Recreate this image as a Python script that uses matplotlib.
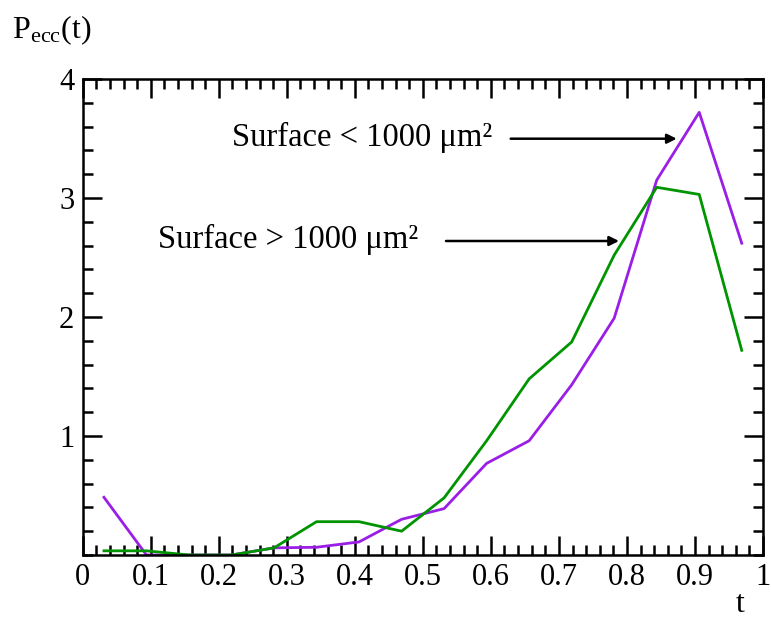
import matplotlib
matplotlib.use("Agg")
import matplotlib.pyplot as plt
from matplotlib.ticker import MultipleLocator, FixedLocator, FuncFormatter

plt.rcParams['font.family'] = ['Liberation Serif', 'DejaVu Serif']
plt.rcParams['mathtext.fontset'] = 'custom'
plt.rcParams['mathtext.rm'] = 'Liberation Serif'
plt.rcParams['mathtext.it'] = 'Liberation Serif'

t = [0.03125, 0.09375, 0.15625, 0.21875, 0.28125, 0.34375, 0.40625, 0.46875,
     0.53125, 0.59375, 0.65625, 0.71875, 0.78125, 0.84375, 0.90625, 0.96875]
small_surface = [0.485, 0.0, 0.0, 0.0, 0.06, 0.065, 0.11, 0.30,
                 0.39, 0.77, 0.96, 1.43, 1.99, 3.15, 3.72, 2.62]
large_surface = [0.035, 0.035, 0.0, 0.0, 0.06, 0.28, 0.28, 0.20,
                 0.48, 0.96, 1.48, 1.79, 2.52, 3.09, 3.03, 1.72]

purple = '#9b1ee6'
green = '#009400'

W, H = 771, 621
fig = plt.figure(figsize=(W/100, H/100), dpi=100)
x0, x1, ytop, ybot = 82.7, 763, 79, 555
ax = fig.add_axes([x0/W, 1 - ybot/H, (x1 - x0)/W, (ybot - ytop)/H])

ax.plot(t, small_surface, color=purple, lw=2.0)
ax.plot(t, large_surface, color=green, lw=2.0)

ax.set_xlim(0, 1)
ax.set_ylim(0, 4)
ax.xaxis.set_major_locator(MultipleLocator(0.1))
ax.xaxis.set_minor_locator(MultipleLocator(0.02))
ax.yaxis.set_major_locator(FixedLocator([1, 2, 3, 4]))
ax.yaxis.set_minor_locator(MultipleLocator(0.2))
ax.xaxis.set_major_formatter(FuncFormatter(lambda v, p: '%g' % round(v, 2)))
ax.yaxis.set_major_formatter(FuncFormatter(lambda v, p: '%g' % v))

ax.tick_params(which='both', direction='in', top=True, right=True, width=1.8,
               labelsize=22, colors='black')
ax.tick_params(which='major', length=14, pad=6)
ax.tick_params(which='minor', length=7)
for s in ax.spines.values():
    s.set_linewidth(1.8)


def px(xp, yp):
    return (xp / W, 1 - yp / H)


fig.text(*px(12, 30), r'P$_{\mathrm{ecc}}$(t)', fontsize=23, va='center', ha='left')
fig.text(*px(740, 605), 't', fontsize=23, va='center', ha='center')

fig.text(*px(232, 137), 'Surface < 1000 μm²', fontsize=23.5, va='center', ha='left')
fig.text(*px(158, 239), 'Surface > 1000 μm²', fontsize=23.5, va='center', ha='left')

arrow = dict(arrowstyle='-|>', color='black', lw=1.8, mutation_scale=14,
             shrinkA=0, shrinkB=0)
fig.add_artist(matplotlib.patches.FancyArrowPatch(
    px(510.7, 138.7), px(676.7, 138.7), transform=fig.transFigure, **arrow))
fig.add_artist(matplotlib.patches.FancyArrowPatch(
    px(446, 241), px(619, 241), transform=fig.transFigure, **arrow))

fig.savefig('out.png', dpi=100)
